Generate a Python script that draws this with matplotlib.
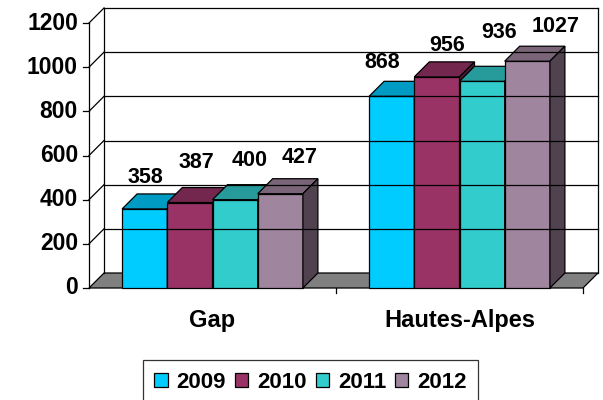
import matplotlib.pyplot as plt
from matplotlib.patches import Polygon, Rectangle, Patch
import numpy as np

# Effectifs par année
categories = ['Gap', 'Hautes-Alpes']
years = ['2009', '2010', '2011', '2012']
v2009 = [358, 868]
v2010 = [387, 956]
v2011 = [400, 936]
v2012 = [427, 1027]
yticks = [0, 200, 400, 600, 800, 1000, 1200]

series = [v2009, v2010, v2011, v2012]
colors = ['#00CCFF', '#993366', '#33CCCC', '#A0859E']

# petits décalages (pixels) des étiquettes de valeur, comme dans Excel
label_nudge = [[(1, 31), (-10, 34)],
               [(7, 40), (10, 31)],
               [(15, 39), (17, 49)],
               [(19, 36), (28, 35)]]

plt.rcParams['font.family'] = ['Liberation Sans', 'DejaVu Sans']
plt.rcParams['font.weight'] = 'bold'

W, H = 603, 400
fig = plt.figure(figsize=(W / 100, H / 100), dpi=100)
# plan avant du graphique (en pixels)
left, right, bottom, top = 89, 583, 288, 23
ax = fig.add_axes([left / W, (H - bottom) / H, (right - left) / W, (bottom - top) / H])
ax.set_xlim(-0.5, 1.5)
ax.set_ylim(0, 1200)
ax.axis('off')

# conversion pixels -> unités de données
px_x = 2.0 / (right - left)
px_y = 1200.0 / (bottom - top)
depth = 15
dx, dy = depth * px_x, depth * px_y


def shade(c, f):
    r, g, b = plt.matplotlib.colors.to_rgb(c)
    return (r * f, g * f, b * f)


lw = 0.9
k = 'black'
x0, x1 = -0.5, 1.5

# mur du fond + grille
for g in yticks[1:]:
    ax.plot([x0 + dx, x1 + dx], [g + dy, g + dy], color=k, lw=lw, clip_on=False)
    ax.plot([x0, x0 + dx], [g, g + dy], color=k, lw=lw, clip_on=False)
ax.plot([x0 + dx, x0 + dx], [dy, 1200 + dy], color=k, lw=lw, clip_on=False)
ax.plot([x1 + dx, x1 + dx], [dy, 1200 + dy], color=k, lw=lw, clip_on=False)
ax.plot([x0, x0], [0, 1200], color=k, lw=lw, clip_on=False)

# sol
floor = Polygon([(x0, 0), (x1, 0), (x1 + dx, dy), (x0 + dx, dy)],
                facecolor='#808080', edgecolor=k, lw=lw, clip_on=False)
ax.add_patch(floor)

# graduations
for t in yticks:
    ax.plot([x0 - 6 * px_x, x0], [t, t], color=k, lw=lw, clip_on=False)
    ax.text(x0 - 11 * px_x, t, str(t), ha='right', va='center', fontsize=16.5)
for xc in [0.5, 1.5]:
    ax.plot([xc, xc], [0, -5 * px_y], color=k, lw=lw, clip_on=False)
for i, cat in enumerate(categories):
    ax.text(i, -39 * px_y, cat, ha='center', va='baseline', fontsize=17)

# barres 3D
bw = 0.183
for i in range(len(categories)):
    for j, vals in enumerate(series):
        v = vals[i]
        bx = i - 2 * bw + j * bw
        c = colors[j]
        ax.add_patch(Rectangle((bx, 0), bw, v, facecolor=c, edgecolor=k, lw=lw, clip_on=False))
        ax.add_patch(Polygon([(bx, v), (bx + bw, v), (bx + bw + dx, v + dy), (bx + dx, v + dy)],
                             facecolor=shade(c, 0.76), edgecolor=k, lw=lw, clip_on=False))
        ax.add_patch(Polygon([(bx + bw, 0), (bx + bw + dx, dy), (bx + bw + dx, v + dy), (bx + bw, v)],
                             facecolor=shade(c, 0.5), edgecolor=k, lw=lw, clip_on=False))
        ax.annotate(str(v), xy=(bx + bw / 2, v), xytext=label_nudge[j][i],
                    textcoords='offset pixels', ha='center', va='center', fontsize=15.5)

# légende
handles = [Patch(facecolor=c, edgecolor=k, lw=lw) for c in colors]
leg = fig.legend(handles, years, loc='center', bbox_to_anchor=(310.5 / W, 1 - 382 / H),
                 ncol=4, fontsize=16, frameon=True, fancybox=False, handlelength=0.6,
                 handleheight=0.6, handletextpad=0.4, columnspacing=0.4, borderpad=0.5,
                 borderaxespad=0)
leg.get_frame().set_edgecolor(k)
leg.get_frame().set_linewidth(lw)

fig.savefig('out.png', dpi=100)
